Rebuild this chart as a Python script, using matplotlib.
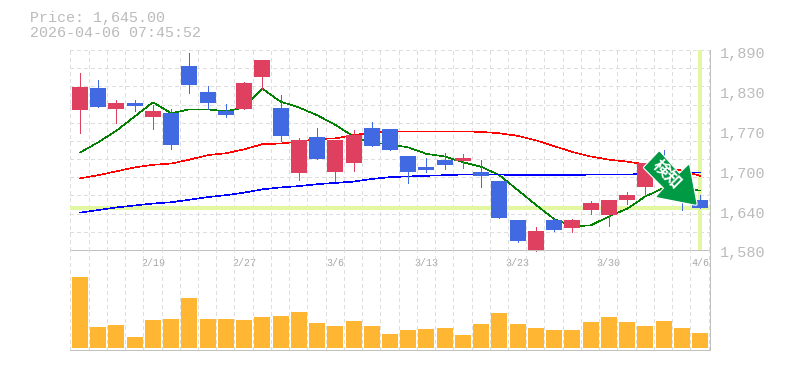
import matplotlib
matplotlib.use("Agg")
import matplotlib.pyplot as plt
from matplotlib.patches import Polygon
from matplotlib.transforms import Affine2D, ScaledTranslation

# ---------- data ----------
opens = [1797,1831,1799,1808,1786,1792,1865,1825,1795,1798,1848,1800,1699,1755,1701,1715,1769,1768,
         1726,1709,1720,1718,1701,1687,1627,1580,1627,1614,1642,1634,1658,1678,1712,1690,1658]
highs = [1854,1843,1812,1812,1805,1798,1885,1834,1806,1840,1875,1820,1754,1769,1750,1766,1778,1768,
         1726,1723,1730,1729,1720,1687,1627,1616,1628,1628,1656,1658,1670,1715,1735,1695,1665]
lows = [1761,1802,1777,1795,1768,1736,1823,1798,1786,1798,1829,1749,1688,1721,1687,1702,1741,1735,
        1684,1701,1706,1707,1678,1630,1592,1579,1609,1608,1636,1617,1651,1665,1682,1642,1645]
closes = [1833,1802,1808,1803,1795,1743,1836,1808,1789,1839,1875,1757,1750,1721,1750,1758,1741,1735,
          1701,1704,1712,1723,1695,1630,1594,1609,1611,1627,1653,1658,1665,1715,1690,1665,1645]
rising = [True,False,True,False,True,False,False,False,False,True,True,False,True,False,True,True,False,False,
          False,False,False,True,False,False,False,True,False,True,True,True,True,True,False,False,False]
ma_short = [1731,1747,1765,1787,1809,1792,1798,1798,1795,1801,1830,1810,1801,1789,1774,1756,1746,1744,
            1739,1729,1725,1716,1709,1696,1673,1650,1628,1617,1618,1632,1644,1663,1676,1676,1672]
ma_mid = [1691,1696,1702,1708,1712,1714,1720,1727,1730,1736,1744,1745,1748,1752,1753,1758,1762,1764,
          1764,1764,1764,1764,1763,1761,1757,1750,1741,1732,1725,1720,1717,1713,1709,1703,1695]
ma_long = [1638,1642,1646,1649,1652,1654,1658,1662,1665,1669,1674,1677,1679,1682,1684,1686,1690,1693,
           1694,1695,1696,1697,1697,1697,1696,1696,1696,1696,1697,1697,1697,1698,1698,1700,1700]
volumes = [213,63,69,33,84,87,150,87,87,84,93,96,108,75,66,81,66,42,
           54,57,60,39,72,105,72,60,54,54,78,93,78,66,81,60,45]
price_ticks = [1890,1828,1766,1704,1642,1580]
price_labels = ["1,890","1,830","1,770","1,700","1,640","1,580"]
date_positions = [4,9,14,19,24,29,34]
date_labels = ["2/19","2/27","3/6","3/13","3/23","3/30","4/6"]
last_price = 1645
title_lines = ["Price: 1,645.00","2026-04-06 07:45:52"]

# ---------- style ----------
W, H = 785, 370
RED, BLUE, ORANGE = "#E04060", "#4169E1", "#FFB733"
LIME, GRID, AXC = "#E1F7A0", "#DDDDDD", "#C0C0C0"
ARROW = "#009944"
MONO = "Liberation Mono"
PX = 0.72

fig = plt.figure(figsize=(W/100, H/100), dpi=100, facecolor="white")
def box(l, t, r, b):
    return [l/W, 1-b/H, (r-l)/W, (b-t)/H]
ax = fig.add_axes(box(70, 50, 710, 250))
vx = fig.add_axes(box(70, 250, 710, 350))
xs = list(range(len(closes)))
pitch = 18.235
xlim = (-10/pitch, 34 + 10/pitch)
grid_x = [k - 0.53 for k in range(36)]
dash = (0, (3, 3))

for a in (ax, vx):
    a.set_xlim(*xlim)
    a.set_axisbelow(True)
    a.patch.set_alpha(0)
    for k in a.spines:
        a.spines[k].set_visible(False)
    for g in grid_x:
        a.axvline(g, color=GRID, lw=PX, ls=dash, zorder=0, antialiased=False)

ax.set_ylim(1580, 1890)
for i in range(12):
    ax.axhline(1580 + i*310/11, color=GRID, lw=PX, ls=dash, zorder=0, antialiased=False)

ax.axhline(last_price, color=LIME, lw=4*PX, zorder=1, antialiased=False)
ax.axvline(xs[-1], color=LIME, lw=4*PX, zorder=1, antialiased=False)

for series, col in ((ma_short, "#008000"), (ma_mid, "#FF0000"), (ma_long, "#0000FF")):
    ax.plot(xs, series, color=col, lw=0.42, zorder=1.5, antialiased=False)

colors = [RED if r else BLUE for r in rising]
ax.vlines(xs, lows, highs, colors=colors, lw=PX, zorder=2, antialiased=False, clip_on=False)
ax.bar(xs, [abs(c-o) for c, o in zip(closes, opens)], bottom=[min(c, o) for c, o in zip(closes, opens)],
       width=16/pitch, color=colors, zorder=3, antialiased=False)

# axis
ax.yaxis.tick_right()
ax.set_yticks(price_ticks, price_labels, family=MONO, fontsize=11, color="#BBBBBB")
ax.tick_params(axis="y", length=0, pad=7.2)
ax.set_xticks(date_positions, date_labels, family=MONO, fontsize=7.2, color="#A8A8A8")
ax.tick_params(axis="x", length=0, pad=6)
shift = ScaledTranslation(0, -2/100, fig.dpi_scale_trans)
for lab in ax.get_yticklabels():
    lab.set_transform(lab.get_transform() + shift)
for lab in ax.get_xticklabels():
    lab.set_zorder(6)

# volume
vx.bar(xs, volumes, width=16/pitch, color=ORANGE, zorder=2, antialiased=False)
vx.set_ylim(-6, 294)
vx.set_xticks([]); vx.set_yticks([])

# frame
for a in (ax, vx):
    for s in ("right", "bottom"):
        a.spines[s].set_visible(True)
        a.spines[s].set_color(AXC)
        a.spines[s].set_linewidth(PX)
        a.spines[s].set_antialiased(False)

# arrow badge anchored to the last session
tip = ax.transData.transform((33.78, 1651))
px = Affine2D().scale(1, -1).translate(*tip)
shape = [(-36.7,-52),(-51.3,-36.6),(-31,-16),(-38.7,-7.6),(0,0),(-7.3,-38.6),(-16.7,-29.3)]
ax.add_patch(Polygon(shape, closed=True, transform=px, facecolor=ARROW, edgecolor="white", lw=2.5,
                     joinstyle="round", zorder=7, clip_on=False))
ax.add_patch(Polygon(shape, closed=True, transform=px, facecolor=ARROW, edgecolor=ARROW, lw=0.8,
                     joinstyle="round", zorder=8, clip_on=False))
ax.text(-29, -29.5, "検知", transform=px, rotation=-45, rotation_mode="anchor", ha="center", va="center",
        color="white", fontsize=12, fontweight="bold", family=["Noto Sans CJK JP", "DejaVu Sans"], zorder=9)

# header
for line, y in zip(title_lines, (18, 33)):
    fig.text(30/W, 1-y/H, line, family=MONO, fontsize=10.8, color="#BBBBBB", va="center", ha="left")

fig.savefig("out.png", dpi=100, facecolor="white")
